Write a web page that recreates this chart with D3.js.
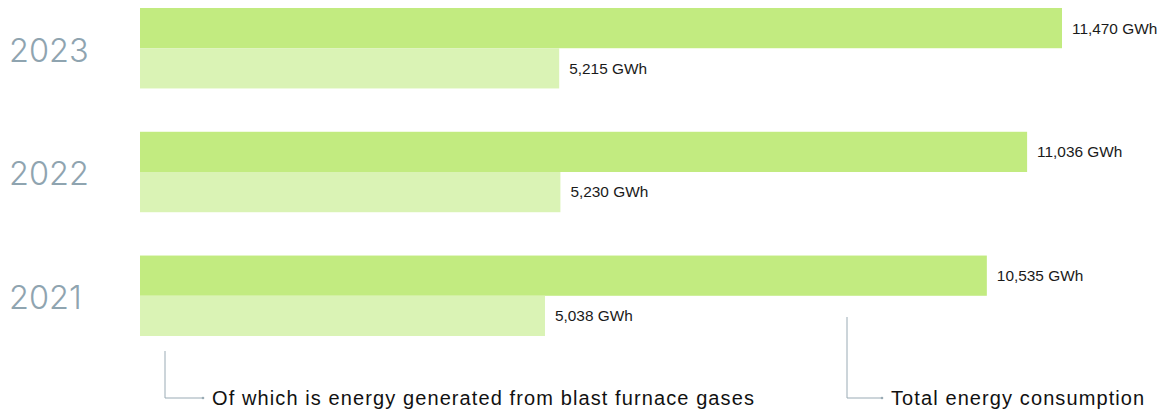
<!DOCTYPE html>
<html><head><meta charset="utf-8">
<script src="https://cdn.jsdelivr.net/npm/d3@7"></script>
<style>body{margin:0;background:#fff}svg{display:block}</style>
</head><body>
<script>
const years = ["2023", "2022", "2021"];
const totalConsumption = [11470, 11036, 10535];
const blastFurnace = [5215, 5230, 5038];
const seriesNames = ["Total energy consumption", "Of which is energy generated from blast furnace gases"];
const unit = "GWh";

const W = 1159, H = 413;
const svg = d3.select("body").append("svg").attr("width", W).attr("height", H);
const font = "'Liberation Sans', Arial, sans-serif";

const x = d3.scaleLinear().domain([0, 11470]).range([140, 1062]);
const y = d3.scaleBand().domain(years).range([8, 336]).paddingInner(0.35).paddingOuter(0);
const sub = d3.scaleBand().domain(["total", "blast"]).range([0, y.bandwidth()]);
const colors = {total: "#c2eb80", blast: "#daf3b5"};

const rows = years.map((yr, i) => ({year: yr, total: totalConsumption[i], blast: blastFurnace[i]}));
const fmt = d3.format(",");

const g = svg.selectAll("g.row").data(rows).join("g").attr("class", "row")
  .attr("transform", d => `translate(0,${y(d.year)})`);

["total", "blast"].forEach(k => {
  g.append("rect").attr("x", x(0)).attr("y", sub(k)).attr("height", sub.bandwidth())
    .attr("width", d => x(d[k]) - x(0)).attr("fill", colors[k]);
  g.append("text").attr("x", d => x(d[k]) + 10).attr("y", sub(k) + sub.bandwidth() / 2)
    .attr("dy", "0.35em").attr("font-family", font).attr("font-size", 15.4).attr("fill", "#1a1a1a")
    .text(d => `${fmt(d[k])} ${unit}`);
});

g.append("text").attr("x", 9).attr("y", y.bandwidth() / 2 + 2).attr("dy", "0.35em")
  .attr("font-family", "Inter, 'Liberation Sans', sans-serif").attr("font-weight", 300)
  .attr("font-size", 32.5).attr("fill", "#8fa4b0").text(d => d.year);

// annotations
const lineC = "#9aabb5";
function annot(x0, yTop, yBot, len, label) {
  svg.append("path").attr("d", `M${x0},${yTop}V${yBot}H${x0 + len}`)
    .attr("fill", "none").attr("stroke", lineC).attr("stroke-width", 1);
  svg.append("circle").attr("cx", x0 + len).attr("cy", yBot).attr("r", 1.3).attr("fill", lineC);
  svg.append("text").attr("x", x0 + len + 9).attr("y", yBot).attr("dy", "0.35em")
    .attr("font-family", font).attr("font-size", 20).attr("letter-spacing", 1.1)
    .attr("fill", "#111").text(label);
}
annot(165, 351, 398, 38, seriesNames[1]);
annot(847, 317, 398, 35, seriesNames[0]);
</script>
</body></html>
